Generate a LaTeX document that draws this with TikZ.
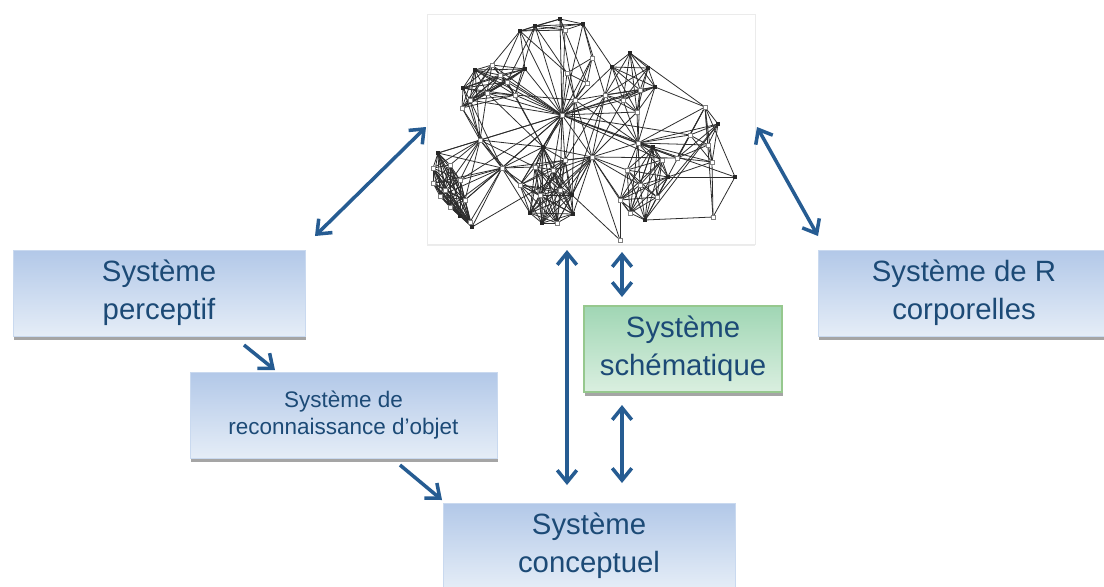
\documentclass[tikz,border=0pt]{standalone}
\usepackage{fontspec}
\setmainfont{Liberation Sans}
\usetikzlibrary{arrows.meta,shadows}
\definecolor{txtblue}{RGB}{28,74,118}
\definecolor{arrblue}{RGB}{38,92,146}
\definecolor{boxtop}{RGB}{178,200,232}
\definecolor{boxbot}{RGB}{229,237,247}
\definecolor{greentop}{RGB}{160,214,180}
\definecolor{greenbot}{RGB}{218,239,224}
\definecolor{greenline}{RGB}{150,200,142}
\definecolor{netline}{RGB}{45,45,45}
\tikzset{
  sysbox/.style={text=txtblue, align=center, minimum height=1.72cm, inner sep=0pt,
    top color=boxtop, bottom color=boxbot, draw=boxtop!70!white, line width=0.3pt,
    drop shadow={shadow xshift=0.7pt, shadow yshift=-2.2pt, opacity=0.5, fill=black!70},
    font=\fontsize{16.7}{21.6}\selectfont},
  greenbox/.style={sysbox, top color=greentop, bottom color=greenbot, draw=greenline, line width=0.8pt},
  smallbox/.style={sysbox, font=\fontsize{12.8}{15.2}\selectfont},
  tip/.tip={Straight Barb[length=2.4mm,width=3.9mm]},
  link/.style={draw=arrblue, line width=2pt, tip-tip},
  onelink/.style={draw=arrblue, line width=2pt, -tip},
  edge/.style={draw=netline, line width=0.45pt},
}
\begin{document}
\begin{tikzpicture}[x=0.02cm, y=-0.02cm]
  \useasboundingbox (0,0) rectangle (1104,586);
  \clip (0,0) rectangle (1104,586);
  \fill[white] (0,0) rectangle (1104,586);

  % network picture
  \node[draw=black!8, fill=white, minimum width=6.56cm, minimum height=4.6cm,
    drop shadow={shadow xshift=0pt, shadow yshift=-1pt, opacity=0.15}] (net) at (591,129) {};
  \foreach \n/\x/\y in {
    a1/520/31, a2/535/26, a3/560/19, a4/583/24, a5/565/30,
    b1/475/70, b2/492/65, b3/507/82, b4/525/69, b5/463/88, b6/462/108, b7/487/93, b8/500/75,
    b9/470/100, b10/515/95,
    c1/438/153, c2/433/168, c3/433/183, c4/440/196, c5/450/207, c6/460/216, c7/470/222,
    c8/472/227, c9/460/180, c10/450/165, c11/445/190, c12/465/200,
    d1/530/213, d2/542/223, d3/557/223, d4/573/214, d5/572/195, d6/535/167, d7/553/170,
    d8/543/147, d9/560/190, d10/540/195, d11/520/185, d12/565/160,
    e1/630/53, e2/612/67, e3/648/68, e4/655/87, e5/640/90, e6/605/95, e7/623/100, e8/637/112,
    f1/627/170, f2/630/213, f3/645/220, f4/657/197, f5/668/177, f6/653/147, f7/640/185,
    f8/620/200, f9/662/160,
    g1/705/107, g2/718/124, g3/712/162, g4/677/158, g5/690/135, g6/708/145,
    m1/592/58, m2/567/73, m3/587/83, m4/575/100,
    h1/562/115, h2/592/157, h3/480/140, h4/638/143, h5/502/168,
    k1/735/177, k2/713/217, k3/620/240}
    \coordinate (\n) at (\x,\y);
  % clusters
  \foreach \grp in {{a1,a2,a3,a4,a5},{b1,b2,b3,b4,b5,b6,b7,b8,b9,b10},
      {c1,c2,c3,c4,c5,c6,c7,c8,c9,c10,c11,c12},{d1,d2,d3,d4,d5,d6,d7,d8,d9,d10,d11,d12},
      {e1,e2,e3,e4,e5,e6,e7,e8},{f1,f2,f3,f4,f5,f6,f7,f8,f9},{g1,g2,g3,g4,g5,g6},{m1,m2,m3,m4}} {
    \foreach \p [count=\i] in \grp {
      \foreach \q [count=\j] in \grp {
        \ifnum\j>\i \draw[edge] (\p) -- (\q); \fi
      }
    }
  }
  % hubs
  \foreach \h/\lst in {
      h1/{a1,a2,a3,a4,a5,b1,b2,b3,b4,b7,b8,b9,b10,m1,m2,m3,e2,e6,e7,e8,d6,d7,d8,d9,d11,d12,
          h2,h3,h4,h5,c1,f6,f9,g4,g5,e5,e4,c9,c12},
      h2/{d1,d2,d3,d4,d5,d7,d9,d12,f1,f2,f7,f8,k3,h4,e7,h5,g4,e6,e8,m4,d8,c8},
      h3/{b1,b5,b6,b7,b9,c1,c2,c9,c10,c12,h5,d8,c4,d6,d11},
      h4/{e4,e5,e8,f1,f5,f6,f7,f9,g1,g2,g3,g4,g5,g6,k1,e7,e6,m4,f2},
      h5/{c1,c3,c5,c7,c9,c12,d1,d6,d10,d8,d11,c4,c8,b6,b9},
      d8/{b3,b7,b10,m4}, m4/{d12,d5,e6,b10}, e6/{d12,d5},
      a1/{b4,b8,m2,b2}, a2/{b3,m2,b10}, a3/{m4,m3}, a4/{e6,m1,e2}, k2/{k1,g3,f3,g1}, g1/{e1,e4,k1,f4},
      f5/{g3,k1}, g2/{f4,f3}, k3/{d5,f8}} {
    \foreach \q in \lst \draw[edge] (\h) -- (\q);
  }
  \foreach \n in {a1,a2,a3,a4,b1,b4,c1,c8,d1,d2,d4,d5,e1,e2,e3,e4,f3,f5,f6,g2,k1,d8,b5,c6}
    \fill[black!85] (\n) ++(-2,-2) rectangle ++(4,4);
  \foreach \n in {a5,b2,b3,b6,b7,b8,b9,b10,c2,c3,c4,c5,c7,c9,c10,c11,c12,d3,d6,d7,d9,d10,d11,d12,
      e5,e6,e7,e8,f1,f2,f4,f7,f8,f9,g1,g3,g4,g5,g6,m1,m2,m3,m4,h1,h2,h3,h4,h5,k2,k3}
    \filldraw[fill=white, draw=black!50, line width=0.3pt] (\n) ++(-2,-2) rectangle ++(4,4);

  % boxes
  \node[sysbox, minimum width=5.84cm] (perc) at (159,293) {Système\\perceptif};
  \node[smallbox, minimum width=6.14cm] (reco) at (343.5,415) {Système de\\reconnaissance d’objet};
  \node[greenbox, minimum width=3.96cm] (schem) at (683,349) {Système\\schématique};
  \node[sysbox, minimum width=5.84cm] (conc) at (589,546) {Système\\conceptuel};
  \node[sysbox, minimum width=5.84cm] (corp) at (964,293) {Système de R\\corporelles};

  % arrows
  \coordinate (l1) at (315,236); \coordinate (l2) at (426,127);
  \coordinate (r1) at (757,127); \coordinate (r2) at (818,236);
  \coordinate (v1) at (567,250); \coordinate (v2) at (567,485);
  \coordinate (s1) at (622,252); \coordinate (s2) at (622,297);
  \coordinate (s3) at (622,405); \coordinate (s4) at (622,483);
  \coordinate (p1) at (244,345); \coordinate (p2) at (275,370);
  \coordinate (o1) at (400,465); \coordinate (o2) at (442,500);
  \draw[link] (l1) -- (l2);
  \draw[link] (r1) -- (r2);
  \draw[link] (v1) -- (v2);
  \draw[link] (s1) -- (s2);
  \draw[link] (s3) -- (s4);
  \draw[onelink] (p1) -- (p2);
  \draw[onelink] (o1) -- (o2);
\end{tikzpicture}
\end{document}
